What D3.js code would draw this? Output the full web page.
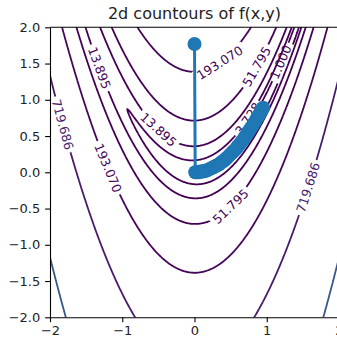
<!DOCTYPE html>
<html>
<head>
<meta charset="utf-8">
<script src="https://cdn.jsdelivr.net/npm/d3@7"></script>
<style>
  body { margin: 0; background: #fff; }
  svg { display: block; }
  text { font-family: "DejaVu Sans", sans-serif; }
</style>
</head>
<body>
<svg id="chart" width="337" height="341"></svg>
<script>
// ---- data ----
const title = "2d countours of f(x,y)";
const xTicks = [-2, -1, 0, 1, 2];
const yTicks = [-2, -1.5, -1, -0.5, 0, 0.5, 1, 1.5, 2];

// contour levels (log-spaced from 1 to 10^4)
const levels = [1, 3.7276, 13.8950, 51.7947, 193.0698, 719.6857, 2682.6958, 10000];

// inline contour labels: which level, and roughly where along that contour
const labelLevel = [2, 5, 4, 2, 4, 3, 0, 1, 3, 5];
const labelX = [-1.336, -1.793, -1.197, -0.478, 0.353, 0.838, 1.198, 0.685, 0.478, 1.543];
const labelY = [1.438, 0.665, 0.060, 0.610, 1.508, 1.466, 1.521, 0.776, -0.452, -0.200];

// descent trajectory
const pathX = [0.00, 0.01, 0.02, 0.04, 0.06, 0.08, 0.10, 0.12, 0.14, 0.16, 0.18, 0.20, 0.22, 0.24,
  0.26, 0.28, 0.30, 0.32, 0.34, 0.36, 0.38, 0.40, 0.42, 0.44, 0.46, 0.48, 0.50, 0.52, 0.54, 0.56,
  0.58, 0.60, 0.62, 0.64, 0.66, 0.68, 0.70, 0.72, 0.74, 0.76, 0.78, 0.80, 0.82, 0.84, 0.86, 0.88,
  0.90, 0.92, 0.94, 0.95];
const pathY = [1.77, 0.00, 0.00, 0.00, 0.00, 0.01, 0.01, 0.01, 0.02, 0.02, 0.03, 0.04, 0.05, 0.06,
  0.07, 0.08, 0.09, 0.10, 0.11, 0.13, 0.14, 0.16, 0.17, 0.19, 0.21, 0.23, 0.25, 0.27, 0.29, 0.31,
  0.33, 0.36, 0.38, 0.41, 0.43, 0.46, 0.49, 0.52, 0.55, 0.58, 0.61, 0.64, 0.67, 0.70, 0.74, 0.77,
  0.81, 0.84, 0.88, 0.89];

// ---- layout ----
const W = 337, H = 341;
const plot = { left: 50, top: 27.3, right: 339, bottom: 317.3 };
const x = d3.scaleLinear().domain([-2, 2]).range([plot.left, plot.right]);
const y = d3.scaleLinear().domain([-2, 2]).range([plot.bottom, plot.top]);
const color = d3.scaleSequential(d3.interpolateViridis).domain([levels[0], levels[levels.length - 1]]);
const fmtLevel = d3.format(".3f");
const labelSize = 12.5, tickSize = 13, titleSize = 16;

const svg = d3.select("#chart");
const defs = svg.append("defs");
defs.append("clipPath").attr("id", "plotClip")
  .append("rect")
  .attr("x", plot.left).attr("y", plot.top)
  .attr("width", plot.right - plot.left).attr("height", plot.bottom - plot.top);

// ---- Rosenbrock function sampled on a grid a bit larger than the view ----
const f = (a, b) => (1 - a) * (1 - a) + 100 * (b - a * a) * (b - a * a);
const g0 = -2.2, gStep = 0.01, n = 441;
const values = new Float64Array(n * n);
for (let j = 0; j < n; j++) {
  for (let i = 0; i < n; i++) {
    values[j * n + i] = f(g0 + i * gStep, g0 + j * gStep);
  }
}
const contours = d3.contours().size([n, n]).thresholds(levels)(values);

// grid coordinates -> pixel coordinates
const toPx = c => [x(g0 + (c[0] - 0.5) * gStep), y(g0 + (c[1] - 0.5) * gStep)];
const ringsByLevel = contours.map(ct => {
  const rings = [];
  ct.coordinates.forEach(poly => poly.forEach(ring => rings.push(ring.map(toPx))));
  return rings;
});

// ---- inline labels: snap to the contour and follow its direction ----
const labelG = svg.append("g").attr("clip-path", "url(#plotClip)");
const labels = labelLevel.map((lv, k) => {
  const t = labelG.append("text")
    .attr("font-size", labelSize)
    .attr("fill", color(levels[lv]))
    .attr("text-anchor", "middle")
    .attr("dy", "0.36em")
    .text(fmtLevel(levels[lv]));
  const w = t.node().getComputedTextLength();
  const tx = x(labelX[k]), ty = y(labelY[k]);
  let best = null;
  ringsByLevel[lv].forEach(ring => {
    ring.forEach((p, idx) => {
      const d = (p[0] - tx) ** 2 + (p[1] - ty) ** 2;
      if (!best || d < best.d) best = { d, ring, idx };
    });
  });
  const { ring, idx } = best;
  const m = ring.length;
  const walk = dir => {
    let acc = 0, i = idx;
    for (let s = 0; s < m; s++) {
      const j = (i + dir + m) % m;
      acc += Math.hypot(ring[j][0] - ring[i][0], ring[j][1] - ring[i][1]);
      i = j;
      if (acc >= w / 2) break;
    }
    return ring[i];
  };
  const a = walk(-1), b = walk(1);
  let ang = Math.atan2(b[1] - a[1], b[0] - a[0]) * 180 / Math.PI;
  if (ang > 90) ang -= 180;
  if (ang < -90) ang += 180;
  const cx = ring[idx][0], cy = ring[idx][1];
  t.attr("transform", `translate(${cx},${cy}) rotate(${ang})`);
  return { lv, w, cx, cy, ang };
});

// masks cut a gap in each contour where its own labels sit
levels.forEach((lv, k) => {
  const mk = defs.append("mask").attr("id", "gap" + k)
    .attr("maskUnits", "userSpaceOnUse")
    .attr("x", 0).attr("y", 0).attr("width", W).attr("height", H);
  mk.append("rect").attr("width", W).attr("height", H).attr("fill", "#fff");
  labels.filter(l => l.lv === k).forEach(l => {
    mk.append("rect")
      .attr("x", -l.w / 2 - 3).attr("y", -7)
      .attr("width", l.w + 6).attr("height", 14)
      .attr("fill", "#000")
      .attr("transform", `translate(${l.cx},${l.cy}) rotate(${l.ang})`);
  });
});

// ---- contour lines ----
const lineG = svg.insert("g", "g").attr("clip-path", "url(#plotClip)");
const line = d3.line();
ringsByLevel.forEach((rings, k) => {
  const g = lineG.append("g").attr("mask", `url(#gap${k})`);
  rings.forEach(r => {
    g.append("path")
      .attr("d", line(r) + "Z")
      .attr("fill", "none")
      .attr("stroke", color(levels[k]))
      .attr("stroke-width", 1.8);
  });
});

// ---- trajectory ----
const pts = pathX.map((v, i) => [x(v), y(pathY[i])]);
const trajG = svg.append("g").attr("clip-path", "url(#plotClip)");
trajG.append("path")
  .attr("d", d3.line()(pts))
  .attr("fill", "none")
  .attr("stroke", "#1f77b4")
  .attr("stroke-width", 3);
trajG.selectAll("circle").data(pts).join("circle")
  .attr("cx", d => d[0]).attr("cy", d => d[1])
  .attr("r", 7)
  .attr("fill", "#1f77b4");

// ---- axes ----
const xAxis = svg.append("g")
  .attr("transform", `translate(0,${plot.bottom})`)
  .call(d3.axisBottom(x).tickValues(xTicks).tickFormat(d3.format("d"))
    .tickSize(4.9).tickPadding(3.5).tickSizeOuter(0));
const yAxis = svg.append("g")
  .attr("transform", `translate(${plot.left},0)`)
  .call(d3.axisLeft(y).tickValues(yTicks).tickFormat(d3.format(".1f"))
    .tickSize(4.9).tickPadding(4.9).tickSizeOuter(0));
[xAxis, yAxis].forEach(ax => {
  ax.selectAll("path.domain").attr("stroke", "#000").attr("stroke-width", 1.1);
  ax.selectAll(".tick line").attr("stroke", "#000").attr("stroke-width", 1.1);
  ax.selectAll(".tick text").attr("font-size", tickSize).attr("fill", "#222")
    .attr("font-family", "DejaVu Sans, sans-serif");
});
svg.append("line")
  .attr("x1", plot.left).attr("x2", plot.right)
  .attr("y1", plot.top).attr("y2", plot.top)
  .attr("stroke", "#000").attr("stroke-width", 1.1);
svg.append("line")
  .attr("x1", plot.right).attr("x2", plot.right)
  .attr("y1", plot.top).attr("y2", plot.bottom)
  .attr("stroke", "#000").attr("stroke-width", 1.1);

// ---- title ----
svg.append("text")
  .attr("x", (plot.left + plot.right) / 2).attr("y", 19)
  .attr("text-anchor", "middle")
  .attr("font-size", titleSize).attr("fill", "#222")
  .text(title);
</script>
</body>
</html>
